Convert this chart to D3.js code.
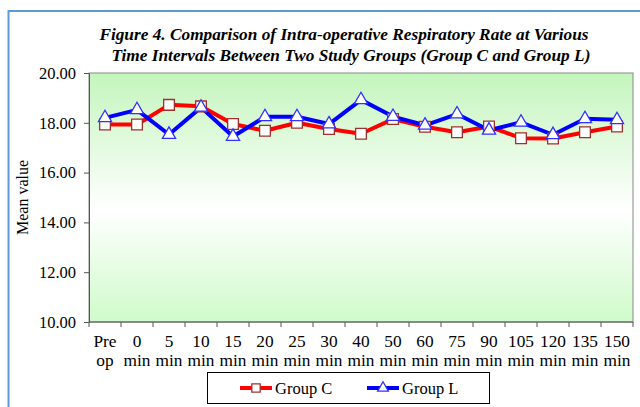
<!DOCTYPE html>
<html>
<head>
<meta charset="utf-8">
<script src="https://cdn.jsdelivr.net/npm/d3@7"></script>
<style>
  body { margin: 0; background: #fff; }
  text { font-family: "Liberation Serif", "Times New Roman", serif; fill: #000; }
</style>
</head>
<body>
<div id="chart"></div>
<script>
// Datos
const categorias = ['Pre op', '0 min', '5 min', '10 min', '15 min', '20 min', '25 min', '30 min', '40 min',
  '50 min', '60 min', '75 min', '90 min', '105 min', '120 min', '135 min', '150 min'];
const grupoC = [17.93, 17.93, 18.72, 18.66, 17.95, 17.68, 18.0, 17.75, 17.56, 18.15, 17.84, 17.62, 17.85, 17.38, 17.37, 17.62, 17.85];
const grupoL = [18.2, 18.52, 17.53, 18.62, 17.45, 18.24, 18.24, 17.95, 18.92, 18.25, 17.9, 18.35, 17.7, 18.02, 17.52, 18.16, 18.12];
const yTicks = [10, 12, 14, 16, 18, 20];
const series = [
  { name: 'Group C', values: grupoC, line: '#ff0000', marker: 'square', stroke: '#a0302e' },
  { name: 'Group L', values: grupoL, line: '#0000ff', marker: 'triangle', stroke: '#3030ff' }
];

const W = 640, H = 407;
const margin = { top: 73, right: 7, bottom: 85, left: 89 };
const width = W - margin.left - margin.right,
      height = H - margin.top - margin.bottom;

const svg = d3.select('#chart').append('svg')
  .attr('width', W).attr('height', H);

// Marco exterior
svg.append('rect')
  .attr('x', 8.5).attr('y', 11)
  .attr('width', W + 20).attr('height', H + 20)
  .attr('fill', 'none').attr('stroke', '#5b9bd5').attr('stroke-width', 2);

// Gradiente del area de trazado
const defs = svg.append('defs');
const grad = defs.append('linearGradient').attr('id', 'bg')
  .attr('x1', 0).attr('y1', 0).attr('x2', 0).attr('y2', 1);
grad.append('stop').attr('offset', '0%').attr('stop-color', '#c4f5bd');
grad.append('stop').attr('offset', '55%').attr('stop-color', '#ffffff');
grad.append('stop').attr('offset', '100%').attr('stop-color', '#cffbca');

// Titulo
const title = svg.append('text')
  .attr('text-anchor', 'middle')
  .style('font-size', '17.3px').style('font-weight', 'bold').style('font-style', 'italic');
title.append('tspan').attr('x', 344).attr('y', 40)
  .text('Figure 4. Comparison of Intra-operative Respiratory Rate at Various');
title.append('tspan').attr('x', 351).attr('y', 61)
  .text('Time Intervals Between Two Study Groups (Group C and Group L)');

const g = svg.append('g').attr('transform', 'translate(' + margin.left + ',' + margin.top + ')');

g.append('rect')
  .attr('width', width).attr('height', height)
  .attr('fill', 'url(#bg)')
  .attr('stroke', '#888').attr('stroke-width', 1);

let x = d3.scaleBand().domain(categorias).range([0, width]).padding(0);
let y = d3.scaleLinear().domain([10, 20]).range([height, 0]);

// Eje Y
let yAxis = g.append('g')
  .call(d3.axisLeft(y).tickValues(yTicks).tickSize(5).tickSizeOuter(0).tickFormat(d3.format('.2f')));
yAxis.select('.domain').attr('stroke', '#555');
yAxis.selectAll('.tick line').attr('stroke', '#555');
yAxis.selectAll('.tick text')
  .attr('x', -13)
  .style('font-size', '16.5px');

// Eje X con marcas en los limites de categoria
let xAxis = g.append('g').attr('transform', 'translate(0,' + height + ')');
xAxis.append('line').attr('x1', 0).attr('x2', width).attr('stroke', '#555');
xAxis.selectAll('.tk')
  .data(d3.range(categorias.length + 1))
  .enter().append('line')
  .attr('x1', function(d) { return d * x.step(); })
  .attr('x2', function(d) { return d * x.step(); })
  .attr('y1', 0).attr('y2', 5)
  .attr('stroke', '#555');
xAxis.selectAll('.lbl')
  .data(categorias)
  .enter().append('text')
  .attr('text-anchor', 'middle')
  .style('font-size', '17.3px')
  .each(function(d) {
    let parts = d.split(' ');
    let cx = x(d) + x.bandwidth() / 2;
    d3.select(this).append('tspan').attr('x', cx).attr('y', 25).text(parts[0]);
    d3.select(this).append('tspan').attr('x', cx).attr('y', 44).text(parts[1]);
  });

// Titulo del eje Y
svg.append('text')
  .attr('transform', 'translate(28,' + (margin.top + height / 2) + ') rotate(-90)')
  .attr('text-anchor', 'middle')
  .style('font-size', '16px')
  .text('Mean value');

// Lineas y marcadores
let line = d3.line()
  .x(function(d, i) { return x(categorias[i]) + x.bandwidth() / 2; })
  .y(function(d) { return y(d); });

let sq = d3.symbol().type(d3.symbolSquare).size(115);
let tri = d3.symbol().type(d3.symbolTriangle).size(75);

series.forEach(function(s) {
  g.append('path')
    .datum(s.values)
    .attr('d', line)
    .attr('fill', 'none')
    .attr('stroke', s.line)
    .attr('stroke-width', 4)
    .attr('stroke-linejoin', 'round');
});
series.forEach(function(s) {
  g.selectAll('.m-' + s.marker)
    .data(s.values)
    .enter().append('path')
    .attr('transform', function(d, i) { return 'translate(' + (x(categorias[i]) + x.bandwidth() / 2) + ',' + y(d) + ')'; })
    .attr('d', s.marker === 'square' ? sq : tri)
    .attr('fill', '#fff')
    .attr('stroke', s.stroke)
    .attr('stroke-width', 1.3);
});

// Leyenda
let leg = svg.append('g');
leg.append('rect')
  .attr('x', 207.5).attr('y', 372.5).attr('width', 282).attr('height', 31)
  .attr('fill', '#fff').attr('stroke', '#000').attr('stroke-width', 1);
let legX = [240, 367];
series.forEach(function(s, i) {
  let lx = legX[i], ly = 388;
  leg.append('line').attr('x1', lx).attr('x2', lx + 32).attr('y1', ly).attr('y2', ly)
    .attr('stroke', s.line).attr('stroke-width', 4);
  leg.append('path')
    .attr('transform', 'translate(' + (lx + 16) + ',' + ly + ')')
    .attr('d', s.marker === 'square' ? d3.symbol().type(d3.symbolSquare).size(70) : d3.symbol().type(d3.symbolTriangle).size(50))
    .attr('fill', '#fff').attr('stroke', s.stroke).attr('stroke-width', 1.3);
  leg.append('text').attr('x', lx + 35).attr('y', ly + 6)
    .style('font-size', '16.5px')
    .text(s.name);
});
</script>
</body>
</html>
